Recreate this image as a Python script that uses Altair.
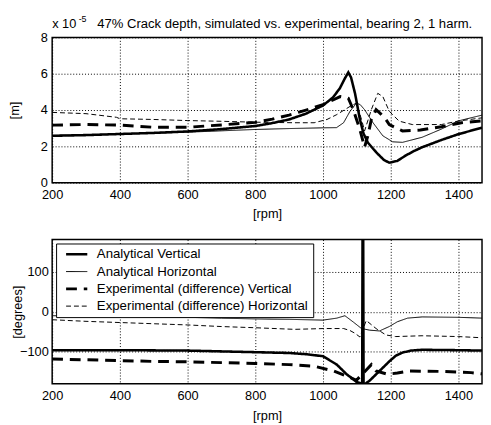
import altair as alt
import pandas as pd

FONT = "Liberation Sans"
TITLE = "47% Crack depth, simulated vs. experimental, bearing 2, 1 harm."
SERIES = ["Analytical Vertical", "Analytical Horizontal",
          "Experimental (difference) Vertical", "Experimental (difference) Horizontal"]
X_TICKS = [200, 400, 600, 800, 1000, 1200, 1400]
AMP_TICKS = [0, 2, 4, 6, 8]
PH_TICKS = [-100, 0, 100]

# ---- amplitude (x 1e-5 m) ----
av_amp_rpm = [200, 300, 400, 500, 600, 700, 800, 850, 900, 950, 1000, 1030, 1050, 1065, 1075, 1083, 1095, 1109,
              1120, 1133, 1157, 1180, 1196, 1220, 1244, 1270, 1293, 1350, 1400, 1470]
av_amp = [2.58, 2.62, 2.68, 2.74, 2.82, 2.95, 3.12, 3.28, 3.48, 3.8, 4.25, 4.7, 5.2, 5.75, 6.07, 5.8, 4.9, 3.5,
          2.7, 2.2, 1.68, 1.25, 1.1, 1.2, 1.49, 1.75, 1.95, 2.35, 2.67, 3.03]

ah_amp_rpm = [200, 400, 600, 800, 900, 1000, 1040, 1061, 1080, 1099, 1110, 1123, 1148, 1177, 1206, 1235, 1293,
              1350, 1400, 1470]
ah_amp = [2.6, 2.68, 2.78, 2.93, 2.98, 3.02, 3.03, 3.3, 3.93, 4.38, 4.3, 4.02, 3.3, 2.58, 2.25, 2.22, 2.5,
          2.95, 3.4, 3.72]

ev_amp_rpm = [200, 300, 400, 500, 600, 700, 800, 850, 900, 950, 1000, 1051, 1075, 1090, 1109, 1123, 1133, 1143,
              1157, 1170, 1186, 1196, 1235, 1288, 1350, 1409, 1470]
ev_amp = [3.17, 3.2, 3.17, 3.05, 3.05, 3.18, 3.32, 3.5, 3.72, 4.0, 4.3, 4.74, 4.65, 4.0, 2.94, 1.95, 2.6, 3.48,
          4.02, 3.8, 3.48, 3.2, 2.85, 2.9, 3.08, 3.3, 3.4]

eh_amp_rpm = [200, 300, 390, 400, 500, 600, 700, 800, 916, 974, 1012, 1041, 1080, 1099, 1114, 1123, 1143, 1162,
              1177, 1196, 1225, 1264, 1293, 1350, 1399, 1470]
eh_amp = [3.87, 3.8, 3.6, 3.52, 3.48, 3.42, 3.38, 3.33, 3.3, 3.3, 3.48, 3.75, 4.2, 4.38, 3.48, 2.85, 4.02, 4.92,
          4.74, 3.93, 3.39, 3.2, 3.2, 3.2, 3.39, 3.57]

# ---- phase (degrees) ----
av_ph_rpm = [200, 400, 600, 700, 800, 900, 950, 1000, 1041, 1070, 1099, 1116, 1117, 1119, 1120, 1125, 1138,
             1167, 1196, 1215, 1235, 1260, 1293, 1400, 1470]
av_ph = [-96, -96, -97, -99, -101, -103, -106, -111, -132, -156, -175, -180, 180, 180, -180, -180, -172,
         -148, -124, -110, -102, -97, -95, -96, -97]

ah_ph_rpm = [200, 300, 400, 500, 600, 700, 800, 900, 1000, 1041, 1065, 1090, 1114, 1138, 1167, 1196, 1220,
             1250, 1293, 1400, 1470]
ah_ph = [-10, -11, -12, -13, -14, -16, -18, -19, -21, -16, -10, -26, -42, -46, -48, -37, -25,
         -16, -13, -14, -16]

ev_ph_rpm = [200, 300, 400, 500, 600, 700, 800, 900, 974, 1032, 1080, 1099, 1143, 1157, 1191, 1220, 1254,
             1350, 1438, 1470]
ev_ph = [-118, -120, -122, -124, -125, -127, -129, -132, -136, -148, -164, -171, -132, -148, -156, -153, -148,
         -149, -152, -155]

eh_ph_rpm = [200, 300, 400, 500, 600, 700, 800, 916, 1003, 1061, 1080, 1095, 1109, 1128, 1157, 1186, 1215,
             1293, 1400, 1470]
eh_ph = [-20, -24, -27, -30, -33, -37, -40, -44, -42, -42, -47, -54, -63, -22, -42, -58, -62,
         -60, -62, -65]


def long(parts):
    rows = []
    for name, xs, ys in parts:
        for x, y in zip(xs, ys):
            rows.append({"rpm": x, "v": y, "series": name})
    return pd.DataFrame(rows)


amp_df = long([(SERIES[0], av_amp_rpm, av_amp), (SERIES[1], ah_amp_rpm, ah_amp),
               (SERIES[2], ev_amp_rpm, ev_amp), (SERIES[3], eh_amp_rpm, eh_amp)])
ph_df = long([(SERIES[0], av_ph_rpm, av_ph), (SERIES[1], ah_ph_rpm, ah_ph),
              (SERIES[2], ev_ph_rpm, ev_ph), (SERIES[3], eh_ph_rpm, eh_ph)])

W = 438
H_TOP = 148
H_BOT = 147
FS = 13

dash_scale = alt.Scale(type="ordinal", domain=SERIES, range=[[1, 0], [1, 0], [11, 7], [5, 3]])
width_scale = alt.Scale(type="ordinal", domain=SERIES, range=[2.6, 1.0, 3.0, 1.0])

x_enc = alt.X("rpm:Q", scale=alt.Scale(domain=[200, 1470], nice=False, zero=False),
              axis=alt.Axis(values=X_TICKS, title="[rpm]", format="d", labelFlush=False,
                            labelOverlap=False, labelPadding=6, titlePadding=7))

legend = alt.Legend(orient="top-left", offset=4, title=None, symbolType="stroke",
                    symbolSize=466, labelFontSize=13.5, labelFont=FONT, labelColor="black",
                    fillColor="white", strokeColor="black", padding=4.5, rowPadding=3.6,
                    clipHeight=13, labelOffset=8, symbolOffset=4, symbolStrokeColor="black",
                    labelLimit=0)

top_lines = alt.Chart(amp_df).mark_line(color="black", clip=True).encode(
    x=x_enc,
    y=alt.Y("v:Q", scale=alt.Scale(domain=[0, 8], nice=False),
            axis=alt.Axis(values=AMP_TICKS, title="[m]", format="d", labelFlush=False, labelPadding=5,
                          titleX=-38, titleY=H_TOP / 2, titleBaseline="middle", titleAlign="center")),
    strokeDash=alt.StrokeDash("series:N", scale=dash_scale, legend=None),
    strokeWidth=alt.StrokeWidth("series:N", scale=width_scale, legend=None),
    detail="series:N",
)

title_df = pd.DataFrame({"t": [TITLE]})
title_text = alt.Chart(title_df).mark_text(font=FONT, fontSize=13.3, color="black", align="center",
                                           baseline="alphabetic").encode(
    text="t:N", x=alt.value(237), y=alt.value(-10))
exp_df = pd.DataFrame({"t": ["x 10"]})
exp_text = alt.Chart(exp_df).mark_text(font=FONT, fontSize=13, color="black", align="left",
                                       baseline="alphabetic").encode(
    text="t:N", x=alt.value(0), y=alt.value(-10))
sup_df = pd.DataFrame({"t": ["-5"]})
sup_text = alt.Chart(sup_df).mark_text(font=FONT, fontSize=9, color="black", align="left",
                                       baseline="alphabetic").encode(
    text="t:N", x=alt.value(27), y=alt.value(-16))

top = alt.layer(top_lines, title_text, exp_text, sup_text).properties(width=W, height=H_TOP)

bottom = alt.Chart(ph_df).mark_line(color="black", clip=True).encode(
    x=x_enc,
    y=alt.Y("v:Q", scale=alt.Scale(domain=[-180, 180], nice=False),
            axis=alt.Axis(values=PH_TICKS, title="[degrees]", format="d", labelFlush=False, labelPadding=4,
                          titleX=-35.5, titleY=H_BOT / 2, titleBaseline="middle", titleAlign="center")),
    strokeDash=alt.StrokeDash("series:N", scale=dash_scale, legend=legend),
    strokeWidth=alt.StrokeWidth("series:N", scale=width_scale, legend=legend),
    detail="series:N",
).properties(width=W, height=H_BOT)

chart = alt.vconcat(top, bottom, spacing=17).resolve_scale(
    strokeDash="independent", strokeWidth="independent"
).properties(padding={"top": 2, "left": 0, "right": 0, "bottom": 0}).configure_view(
    stroke="black", strokeWidth=1.5
).configure_axis(
    grid=True, gridColor="black", gridDash=[1, 2], gridOpacity=1, gridWidth=1,
    domain=False, ticks=False,
    labelFont=FONT, labelFontSize=FS, labelColor="black",
    titleFont=FONT, titleFontSize=FS, titleFontWeight="normal", titleColor="black",
)

chart.save("out.html", embed_options={"renderer": "svg", "actions": False})
